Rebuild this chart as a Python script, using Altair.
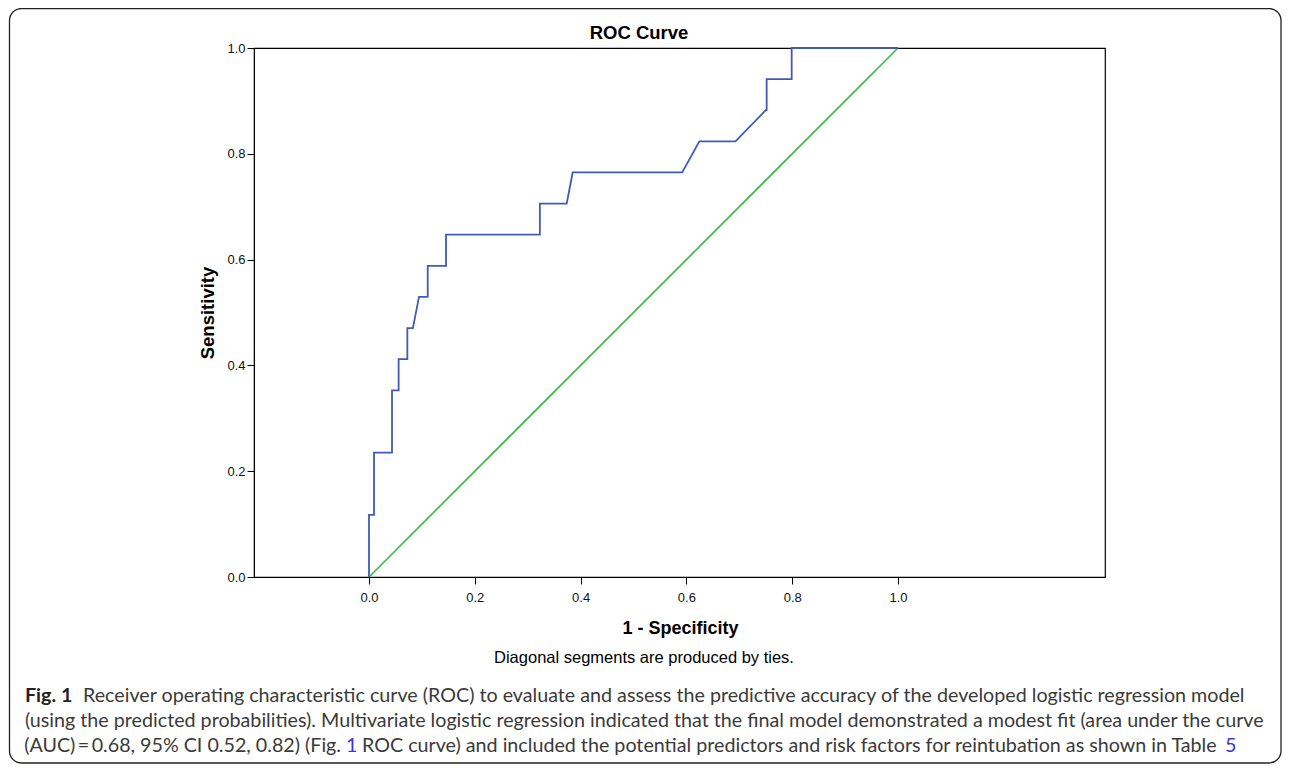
import altair as alt
import pandas as pd

# ROC curve (1 - specificity, sensitivity), in drawing order
fpr = [0.0, 0.0, 0.0095, 0.0095, 0.0435, 0.0435, 0.056, 0.056, 0.0725, 0.0725,
       0.083, 0.0945, 0.111, 0.111, 0.1456, 0.1456, 0.323, 0.323, 0.3737, 0.385,
       0.592, 0.6245, 0.6927, 0.750, 0.7517, 0.7517, 0.799, 0.799, 1.0]
tpr = [0.0, 0.1176, 0.1176, 0.2353, 0.2353, 0.3529, 0.3529, 0.4118, 0.4118, 0.4706,
       0.4706, 0.5294, 0.5294, 0.5882, 0.5882, 0.6471, 0.6471, 0.7059, 0.7059, 0.7647,
       0.7647, 0.8235, 0.8235, 0.8824, 0.8824, 0.9412, 0.9412, 1.0, 1.0]
diag_x = [0.0, 1.0]
diag_y = [0.0, 1.0]
x_ticks = [0.0, 0.2, 0.4, 0.6, 0.8, 1.0]
y_ticks = [0.0, 0.2, 0.4, 0.6, 0.8, 1.0]

title_text = "ROC Curve"
x_title = "1 - Specificity"
y_title = "Sensitivity"
footnote = "Diagonal segments are produced by ties."
cap_bold = "Fig. 1"
cap_line1 = ("Receiver operating characteristic curve (ROC) to evaluate and assess the "
             "predictive accuracy of the developed logistic regression model")
cap_line2 = ("(using the predicted probabilities). Multivariate logistic regression indicated "
             "that the final model demonstrated a modest fit (area under the curve")
cap_line3a = "(AUC)\u2009=\u20090.68, 95% CI 0.52, 0.82) (Fig."
cap_link1 = "1"
cap_line3b = ("ROC curve) and included the potential predictors and risk factors for "
              "reintubation as shown in Table")
cap_link2 = "5"

roc = pd.DataFrame({"fpr": fpr, "tpr": tpr, "step": list(range(len(fpr)))})
ref = pd.DataFrame({"fpr": diag_x, "tpr": diag_y, "step": list(range(len(diag_x)))})
one = pd.DataFrame({"a": [0]})

W, H = 851, 529
BLUE = "#3F5CB4"
GREEN = "#3BB84A"
CAP = "#3a3a3a"
LINK = "#3535EE"
AX_FONT = "Liberation Sans"
CAP_FONT = "Lato"
CAP_SIZE = 19.7

xscale = alt.Scale(domain=[-0.2174, 1.3913], nice=False, zero=False)
yscale = alt.Scale(domain=[0.0, 1.0], nice=False, zero=False)

x_axis = alt.Axis(values=x_ticks, format=".1f", title=x_title, grid=False,
                  domainColor="#000", tickColor="#000", tickSize=7,
                  labelFont=AX_FONT, labelFontSize=13, labelColor="#111",
                  labelPadding=7, labelBaseline="top", labelFlush=False,
                  labelOverlap=False,
                  titleFont=AX_FONT, titleFontSize=18, titleFontWeight="bold",
                  titleColor="#000", titleX=426, titleY=56,
                  titleBaseline="alphabetic", titleAlign="center")
y_axis = alt.Axis(values=y_ticks, format=".1f", title=y_title, grid=False,
                  domainColor="#000", tickColor="#000", tickSize=7,
                  labelFont=AX_FONT, labelFontSize=13, labelColor="#111",
                  labelPadding=2, labelFlush=False, labelOverlap=False,
                  titleFont=AX_FONT, titleFontSize=18.5, titleFontWeight="bold",
                  titleColor="#000", titleX=-47, titleY=H / 2, titleAngle=270,
                  titleBaseline="middle", titleAlign="center")

enc_x = alt.X("fpr:Q", scale=xscale, axis=x_axis)
enc_y = alt.Y("tpr:Q", scale=yscale, axis=y_axis)

diag = alt.Chart(ref).mark_line(color=GREEN, strokeWidth=1.6).encode(
    x=enc_x, y=enc_y, order="step:Q")
curve = alt.Chart(roc).mark_line(color=BLUE, strokeWidth=1.8).encode(
    x=enc_x, y=enc_y, order="step:Q")

border = alt.Chart(one).mark_rect(filled=False, stroke="#222", strokeWidth=1.3,
                                  cornerRadius=12).encode(
    x=alt.value(-244.5), x2=alt.value(W + 176), y=alt.value(-39.5), y2=alt.value(H + 186))


def txt(s, x, y, font, size, weight="normal", color="#000", align="left"):
    return alt.Chart(one).mark_text(text=s, font=font, fontSize=size, fontWeight=weight,
                                    color=color, align=align, baseline="alphabetic").encode(
        x=alt.value(x), y=alt.value(y))


texts = [
    txt(title_text, 385, -9, AX_FONT, 18.5, "bold", "#000", "center"),
    txt(footnote, 390, 615, AX_FONT, 16.5, "normal", "#000", "center"),
    txt(cap_bold, -229, 654, CAP_FONT, CAP_SIZE, "bold", "#222"),
    txt(cap_line1, -171, 654, CAP_FONT, CAP_SIZE, "normal", CAP),
    txt(cap_line2, -229, 679, CAP_FONT, CAP_SIZE, "normal", CAP),
    txt(cap_line3a, 87, 704, CAP_FONT, CAP_SIZE, "normal", CAP, "right"),
    txt(cap_link1, 92, 704, CAP_FONT, CAP_SIZE, "normal", LINK),
    txt(cap_line3b, 108, 704, CAP_FONT, CAP_SIZE, "normal", CAP),
    txt(cap_link2, 971, 704, CAP_FONT, CAP_SIZE, "normal", LINK),
]

chart = alt.layer(border, diag, curve, *texts).properties(
    width=W, height=H,
    padding={"left": 246, "top": 40, "right": 177, "bottom": 187},
    autosize=alt.AutoSizeParams(type="none"),
    background="white",
).configure_view(stroke="#000", strokeWidth=1.2)

chart.save("out.html", embed_options={"renderer": "svg", "actions": False})
